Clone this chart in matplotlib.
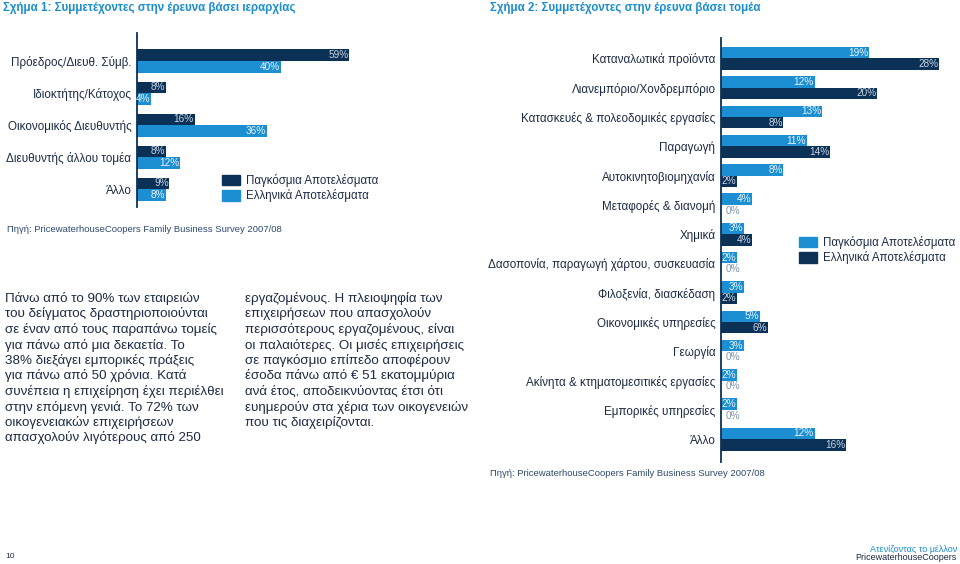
import matplotlib.pyplot as plt
from matplotlib.patches import Patch

plt.rcParams['font.family'] = ['Liberation Sans', 'DejaVu Sans']

NAVY = '#0c3157'
BLUE = '#1b8fd2'
TXT = '#1c2b45'

# --- data: figure 1 (by hierarchy)
roles = ['Πρόεδρος/Διευθ. Σύμβ.', 'Ιδιοκτήτης/Κάτοχος', 'Οικονομικός Διευθυντής',
         'Διευθυντής άλλου τομέα', 'Άλλο']
roles_global = [59, 8, 16, 8, 9]
roles_greece = [40, 4, 36, 12, 8]

# --- data: figure 2 (by sector)
sectors = ['Καταναλωτικά προϊόντα', 'Λιανεμπόριο/Χονδρεμπόριο',
           'Κατασκευές & πολεοδομικές εργασίες', 'Παραγωγή', 'Αυτοκινητοβιομηχανία',
           'Μεταφορές & διανομή', 'Χημικά', 'Δασοπονία, παραγωγή χάρτου, συσκευασία',
           'Φιλοξενία, διασκέδαση', 'Οικονομικές υπηρεσίες', 'Γεωργία',
           'Ακίνητα & κτηματομεσιτικές εργασίες', 'Εμπορικές υπηρεσίες', 'Άλλο']
sectors_global = [19, 12, 13, 11, 8, 4, 3, 2, 3, 5, 3, 2, 2, 12]
sectors_greece = [28, 20, 8, 14, 2, 0, 4, 0, 2, 6, 0, 0, 0, 16]

legend_labels = ['Παγκόσμια Αποτελέσματα', 'Ελληνικά Αποτελέσματα']
source = 'Πηγή: PricewaterhouseCoopers Family Business Survey 2007/08'

text_col1 = ['Πάνω από το 90% των εταιρειών', 'του δείγματος δραστηριοποιούνται',
             'σε έναν από τους παραπάνω τομείς', 'για πάνω από μια δεκαετία. Το',
             '38% διεξάγει εμπορικές πράξεις', 'για πάνω από 50 χρόνια. Κατά',
             'συνέπεια η επιχείρηση έχει περιέλθει', 'στην επόμενη γενιά. Το 72% των',
             'οικογενειακών επιχειρήσεων', 'απασχολούν λιγότερους από 250']
text_col2 = ['εργαζομένους. Η πλειοψηφία των', 'επιχειρήσεων που απασχολούν',
             'περισσότερους εργαζομένους, είναι', 'οι παλαιότερες. Οι μισές επιχειρήσεις',
             'σε παγκόσμιο επίπεδο αποφέρουν', 'έσοδα πάνω από € 51 εκατομμύρια',
             'ανά έτος, αποδεικνύοντας έτσι ότι', 'ευημερούν στα χέρια των οικογενειών',
             'που τις διαχειρίζονται.']

W, H = 960, 564
fig = plt.figure(figsize=(W / 100, H / 100), dpi=100)


def px_axes(x0, y0, x1, y1):
    return fig.add_axes([x0 / W, 1 - y1 / H, (x1 - x0) / W, (y1 - y0) / H])


def ftext(x, y, s, **kw):
    fig.text(x / W, 1 - y / H, s, **kw)


def bar_chart(ax, cats, top_vals, bot_vals, top_col, bot_col, h, ylim, xmax):
    ys = list(range(len(cats)))
    ax.barh([y - h / 2 for y in ys], top_vals, height=h, color=top_col)
    ax.barh([y + h / 2 for y in ys], bot_vals, height=h, color=bot_col)
    for vals, off, col in ((top_vals, -h / 2, top_col), (bot_vals, h / 2, bot_col)):
        tc = '#c8d5e3' if col == NAVY else '#e8f1f8'
        for y, v in zip(ys, vals):
            if v == 0:
                ax.annotate(f'{v}%', (0, y + off), xytext=(3, 0), textcoords='offset points',
                            ha='left', va='center', fontsize=7.2, color='#8094aa')
            else:
                ax.annotate(f'{v}%', (v, y + off), xytext=(-0.5, 0), textcoords='offset points',
                            ha='right', va='center', fontsize=7.2, color=tc)
    ax.set_yticks(ys)
    ax.set_yticklabels(cats, fontsize=8.4, color=TXT)
    ax.set_ylim(*ylim)
    ax.set_xlim(0, xmax)
    ax.set_xticks([])
    ax.tick_params(axis='y', length=0, pad=4)
    for s in ('top', 'right', 'bottom'):
        ax.spines[s].set_visible(False)
    ax.spines['left'].set_color(NAVY)
    ax.spines['left'].set_linewidth(1.3)
    ax.patch.set_alpha(0)


leg_kw = dict(loc='upper left', bbox_transform=fig.transFigure, frameon=False, fontsize=8.3,
              handlelength=1.6, handleheight=1.0, labelspacing=0.2, handletextpad=0.45,
              borderpad=0, borderaxespad=0, labelcolor=TXT)

# figure 1
ax1 = px_axes(137, 33, 396, 207)
bar_chart(ax1, roles, roles_global, roles_greece, NAVY, BLUE, 0.36, (4.56, -0.875), 259 / 3.6)
ax1.legend(handles=[Patch(color=NAVY), Patch(color=BLUE)], labels=legend_labels,
           bbox_to_anchor=(222 / W, 1 - 174 / H), **leg_kw)

# figure 2
ax2 = px_axes(721, 38, 958, 462)
bar_chart(ax2, sectors, sectors_global, sectors_greece, BLUE, NAVY, 0.39, (13.78, -0.70), 237 / 7.8)
ax2.legend(handles=[Patch(color=BLUE), Patch(color=NAVY)], labels=legend_labels,
           bbox_to_anchor=(799 / W, 1 - 236 / H), **leg_kw)

# titles
ftext(3, 8, 'Σχήμα 1: Συμμετέχοντες στην έρευνα βάσει ιεραρχίας', fontsize=8.3,
      fontweight='bold', color='#1a8dcf', va='center')
ftext(490, 8, 'Σχήμα 2: Συμμετέχοντες στην έρευνα βάσει τομέα', fontsize=8.3,
      fontweight='bold', color='#1a8dcf', va='center')

# sources
ftext(7, 229, source, fontsize=6.8, color='#2d4a6e', va='center')
ftext(490, 474, source, fontsize=6.8, color='#2d4a6e', va='center')

# body text
for i, line in enumerate(text_col1):
    ftext(5, 298.5 + i * 15.5, line, fontsize=9.6, color=TXT, va='center')
for i, line in enumerate(text_col2):
    ftext(245, 298.5 + i * 15.5, line, fontsize=9.6, color=TXT, va='center')

# footer
ftext(5, 557, '10', fontsize=6, color=TXT, va='center')
ftext(957, 549, 'Ατενίζοντας το μέλλον', fontsize=6.5, color='#1a8dcf', va='center', ha='right')
ftext(957, 558, 'PricewaterhouseCoopers', fontsize=6.5, color=TXT, va='center', ha='right')

fig.savefig('out.png', dpi=100, facecolor='white')
